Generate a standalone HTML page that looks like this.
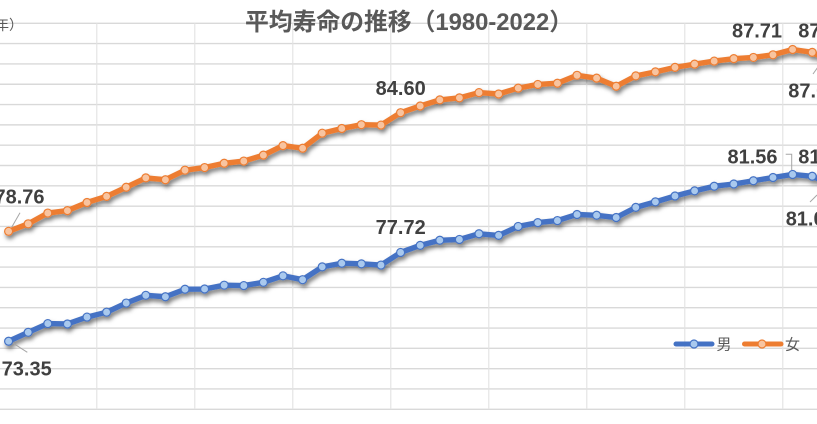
<!DOCTYPE html>
<html><head><meta charset="utf-8"><style>
html,body{margin:0;padding:0;background:#fff;overflow:hidden;}
svg{display:block;}
text{font-family:"Liberation Sans","Noto Sans CJK JP",sans-serif;}
</style></head><body>
<svg width="817" height="424" viewBox="0 0 817 424" xmlns="http://www.w3.org/2000/svg">
<defs>
<filter id="sh" x="-5%" y="-20%" width="110%" height="150%">
<feDropShadow dx="1.5" dy="3.2" stdDeviation="2" flood-color="#000" flood-opacity="0.5"/>
</filter>
</defs>
<rect width="817" height="424" fill="#fff"/>
<g stroke="#d9d9d9" stroke-width="1.4">
<line x1="0" x2="817" y1="409.3" y2="409.3"/>
<line x1="0" x2="817" y1="388.98" y2="388.98"/>
<line x1="0" x2="817" y1="368.67" y2="368.67"/>
<line x1="0" x2="817" y1="348.35" y2="348.35"/>
<line x1="0" x2="817" y1="328.04" y2="328.04"/>
<line x1="0" x2="817" y1="307.72" y2="307.72"/>
<line x1="0" x2="817" y1="287.40" y2="287.40"/>
<line x1="0" x2="817" y1="267.09" y2="267.09"/>
<line x1="0" x2="817" y1="246.77" y2="246.77"/>
<line x1="0" x2="817" y1="226.46" y2="226.46"/>
<line x1="0" x2="817" y1="206.14" y2="206.14"/>
<line x1="0" x2="817" y1="185.82" y2="185.82"/>
<line x1="0" x2="817" y1="165.51" y2="165.51"/>
<line x1="0" x2="817" y1="145.19" y2="145.19"/>
<line x1="0" x2="817" y1="124.88" y2="124.88"/>
<line x1="0" x2="817" y1="104.56" y2="104.56"/>
<line x1="0" x2="817" y1="84.24" y2="84.24"/>
<line x1="0" x2="817" y1="63.93" y2="63.93"/>
<line x1="0" x2="817" y1="43.61" y2="43.61"/>
<line x1="0" x2="817" y1="23.30" y2="23.30"/>
</g>
<g stroke="#e2e2e2" stroke-width="1.1">
<line x1="96.8" x2="96.8" y1="23.3" y2="409.3"/>
<line x1="194.8" x2="194.8" y1="23.3" y2="409.3"/>
<line x1="292.8" x2="292.8" y1="23.3" y2="409.3"/>
<line x1="390.8" x2="390.8" y1="23.3" y2="409.3"/>
<line x1="488.8" x2="488.8" y1="23.3" y2="409.3"/>
<line x1="586.8" x2="586.8" y1="23.3" y2="409.3"/>
<line x1="684.8" x2="684.8" y1="23.3" y2="409.3"/>
<line x1="782.8" x2="782.8" y1="23.3" y2="409.3"/>
</g>

<text x="-19" y="30" font-size="14" fill="#595959">（年）</text>
<text x="409" y="30" font-size="24" font-weight="bold" fill="#595959" text-anchor="middle" textLength="328" lengthAdjust="spacingAndGlyphs">平均寿命の推移（1980-2022）</text>

<!-- Female series -->
<g filter="url(#sh)">
<polyline fill="none" stroke="#ed7d31" stroke-width="5.4" stroke-linejoin="round" stroke-linecap="round" points="8.6,231.33 28.2,223.81 47.8,213.05 67.4,210.61 87.0,202.48 106.6,196.39 126.2,187.25 145.8,177.90 165.4,179.73 185.0,170.18 204.6,167.54 224.2,163.27 243.8,161.04 263.4,155.15 283.0,145.60 302.6,148.24 322.2,133.21 341.8,128.53 361.4,124.67 381.0,125.08 400.6,112.69 420.2,105.98 439.8,99.89 459.4,97.86 479.0,92.57 498.6,94.00 518.2,88.10 537.8,84.45 557.4,83.23 577.0,75.30 596.6,78.15 616.2,86.28 635.8,75.91 655.4,71.85 675.0,67.38 694.6,64.13 714.2,61.08 733.8,58.65 753.4,57.43 773.0,54.79 792.6,49.50 812.2,52.35 831.8,62.10"/>
<g fill="#f8c4a0" stroke="#ed7d31" stroke-width="1.2">
<circle cx="8.6" cy="231.33" r="4"/><circle cx="28.2" cy="223.81" r="4"/><circle cx="47.8" cy="213.05" r="4"/><circle cx="67.4" cy="210.61" r="4"/><circle cx="87.0" cy="202.48" r="4"/><circle cx="106.6" cy="196.39" r="4"/><circle cx="126.2" cy="187.25" r="4"/><circle cx="145.8" cy="177.90" r="4"/><circle cx="165.4" cy="179.73" r="4"/><circle cx="185.0" cy="170.18" r="4"/><circle cx="204.6" cy="167.54" r="4"/><circle cx="224.2" cy="163.27" r="4"/><circle cx="243.8" cy="161.04" r="4"/><circle cx="263.4" cy="155.15" r="4"/><circle cx="283.0" cy="145.60" r="4"/><circle cx="302.6" cy="148.24" r="4"/><circle cx="322.2" cy="133.21" r="4"/><circle cx="341.8" cy="128.53" r="4"/><circle cx="361.4" cy="124.67" r="4"/><circle cx="381.0" cy="125.08" r="4"/><circle cx="400.6" cy="112.69" r="4"/><circle cx="420.2" cy="105.98" r="4"/><circle cx="439.8" cy="99.89" r="4"/><circle cx="459.4" cy="97.86" r="4"/><circle cx="479.0" cy="92.57" r="4"/><circle cx="498.6" cy="94.00" r="4"/><circle cx="518.2" cy="88.10" r="4"/><circle cx="537.8" cy="84.45" r="4"/><circle cx="557.4" cy="83.23" r="4"/><circle cx="577.0" cy="75.30" r="4"/><circle cx="596.6" cy="78.15" r="4"/><circle cx="616.2" cy="86.28" r="4"/><circle cx="635.8" cy="75.91" r="4"/><circle cx="655.4" cy="71.85" r="4"/><circle cx="675.0" cy="67.38" r="4"/><circle cx="694.6" cy="64.13" r="4"/><circle cx="714.2" cy="61.08" r="4"/><circle cx="733.8" cy="58.65" r="4"/><circle cx="753.4" cy="57.43" r="4"/><circle cx="773.0" cy="54.79" r="4"/><circle cx="792.6" cy="49.50" r="4"/><circle cx="812.2" cy="52.35" r="4"/><circle cx="831.8" cy="62.10" r="4"/>
</g>
</g>

<!-- Male series -->
<g filter="url(#sh)">
<polyline fill="none" stroke="#4472c4" stroke-width="5.4" stroke-linejoin="round" stroke-linecap="round" points="8.6,341.24 28.2,332.30 47.8,323.57 67.4,323.97 87.0,317.07 106.6,312.19 126.2,303.05 145.8,295.33 165.4,296.75 185.0,289.23 204.6,289.03 224.2,285.17 243.8,285.58 263.4,282.32 283.0,275.82 302.6,279.68 322.2,266.88 341.8,263.23 361.4,263.84 381.0,265.06 400.6,252.46 420.2,245.35 439.8,240.27 459.4,239.46 479.0,233.77 498.6,235.40 518.2,226.46 537.8,222.60 557.4,220.56 577.0,214.47 596.6,215.28 616.2,217.52 635.8,207.36 655.4,201.87 675.0,195.98 694.6,190.90 714.2,186.23 733.8,184.00 753.4,180.74 773.0,177.49 792.6,174.45 812.2,176.27 831.8,184.81"/>
<g fill="#a9c9ee" stroke="#4472c4" stroke-width="1.2">
<circle cx="8.6" cy="341.24" r="4"/><circle cx="28.2" cy="332.30" r="4"/><circle cx="47.8" cy="323.57" r="4"/><circle cx="67.4" cy="323.97" r="4"/><circle cx="87.0" cy="317.07" r="4"/><circle cx="106.6" cy="312.19" r="4"/><circle cx="126.2" cy="303.05" r="4"/><circle cx="145.8" cy="295.33" r="4"/><circle cx="165.4" cy="296.75" r="4"/><circle cx="185.0" cy="289.23" r="4"/><circle cx="204.6" cy="289.03" r="4"/><circle cx="224.2" cy="285.17" r="4"/><circle cx="243.8" cy="285.58" r="4"/><circle cx="263.4" cy="282.32" r="4"/><circle cx="283.0" cy="275.82" r="4"/><circle cx="302.6" cy="279.68" r="4"/><circle cx="322.2" cy="266.88" r="4"/><circle cx="341.8" cy="263.23" r="4"/><circle cx="361.4" cy="263.84" r="4"/><circle cx="381.0" cy="265.06" r="4"/><circle cx="400.6" cy="252.46" r="4"/><circle cx="420.2" cy="245.35" r="4"/><circle cx="439.8" cy="240.27" r="4"/><circle cx="459.4" cy="239.46" r="4"/><circle cx="479.0" cy="233.77" r="4"/><circle cx="498.6" cy="235.40" r="4"/><circle cx="518.2" cy="226.46" r="4"/><circle cx="537.8" cy="222.60" r="4"/><circle cx="557.4" cy="220.56" r="4"/><circle cx="577.0" cy="214.47" r="4"/><circle cx="596.6" cy="215.28" r="4"/><circle cx="616.2" cy="217.52" r="4"/><circle cx="635.8" cy="207.36" r="4"/><circle cx="655.4" cy="201.87" r="4"/><circle cx="675.0" cy="195.98" r="4"/><circle cx="694.6" cy="190.90" r="4"/><circle cx="714.2" cy="186.23" r="4"/><circle cx="733.8" cy="184.00" r="4"/><circle cx="753.4" cy="180.74" r="4"/><circle cx="773.0" cy="177.49" r="4"/><circle cx="792.6" cy="174.45" r="4"/><circle cx="812.2" cy="176.27" r="4"/><circle cx="831.8" cy="184.81" r="4"/>
</g>
</g>

<!-- leader lines -->
<g stroke="#a6a6a6" stroke-width="1" fill="none">
<line x1="20" y1="212.7" x2="11.7" y2="227.3"/>
<line x1="13.3" y1="343.3" x2="27.3" y2="352.3"/>
<polyline points="785.7,154.3 791.7,154.3 791.7,170"/>
<line x1="813" y1="74" x2="818" y2="67"/>
<line x1="810" y1="202" x2="817" y2="195"/>
</g>

<!-- data labels -->
<g font-size="20" font-weight="bold" fill="#404040" text-anchor="middle">
<text x="19.5" y="203.3">78.76</text>
<text x="26.7" y="375.7">73.35</text>
<text x="400.7" y="95">84.60</text>
<text x="400.7" y="234">77.72</text>
<text x="757" y="37.3">87.71</text>
<text x="752.5" y="163.3">81.56</text>
</g>
<g font-size="20" font-weight="bold" fill="#404040">
<text x="798.3" y="37.3">87.57</text>
<text x="788.3" y="97.3">87.09</text>
<text x="798.3" y="163.3">81.47</text>
<text x="785.7" y="225.7">81.05</text>
</g>

<!-- legend -->
<line x1="676" y1="344" x2="712" y2="344" stroke="#4472c4" stroke-width="5" stroke-linecap="round"/>
<circle cx="694" cy="344" r="4" fill="#a9c9ee" stroke="#4472c4" stroke-width="1.2"/>
<text x="716.5" y="349.5" font-size="15" fill="#595959">男</text>
<line x1="744.5" y1="344" x2="781" y2="344" stroke="#ed7d31" stroke-width="5" stroke-linecap="round"/>
<circle cx="762" cy="344" r="4" fill="#f8c4a0" stroke="#ed7d31" stroke-width="1.2"/>
<text x="785" y="349.5" font-size="15" fill="#595959">女</text>
</svg>
</body></html>
